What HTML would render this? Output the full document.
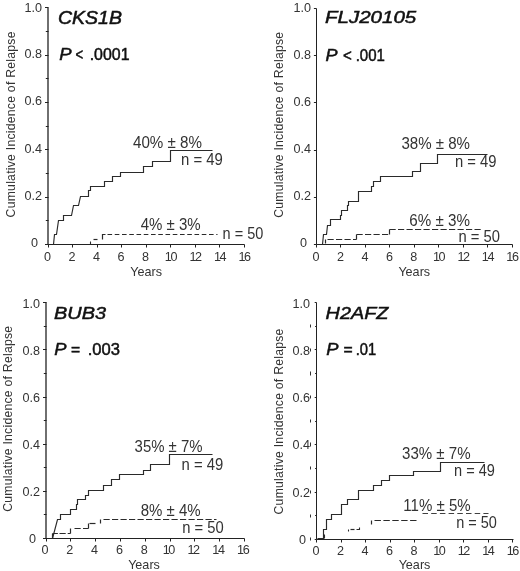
<!DOCTYPE html>
<html lang="en">
<head>
<meta charset="utf-8">
<title>Cumulative Incidence of Relapse</title>
<style>
html,body{margin:0;padding:0;background:#fff;}
body{width:520px;height:571px;overflow:hidden;}
svg{display:block;font-family:"Liberation Sans", Arial, Helvetica, sans-serif;filter:grayscale(1);}
</style>
</head>
<body>
<svg width="520" height="571" viewBox="0 0 520 571" font-family='"Liberation Sans", Arial, Helvetica, sans-serif'>
<rect x="0" y="0" width="520" height="571" fill="#ffffff"/>
<path d="M48,7.4 V245" fill="none" stroke="#2a2a2a" stroke-width="1.35"/>
<path d="M47.5,244.5 H244.5" fill="none" stroke="#222" stroke-width="1"/>
<path d="M45,244.5 H48.5" fill="none" stroke="#222" stroke-width="1"/>
<text transform="translate(38,246.7) scale(1,1)" font-size="12.6" text-anchor="end" fill="#333">0</text>
<path d="M45.8,220.5 H48.5" fill="none" stroke="#222" stroke-width="1"/>
<path d="M45,197.5 H48.5" fill="none" stroke="#222" stroke-width="1"/>
<text transform="translate(42,199.98) scale(1,1)" font-size="12.6" text-anchor="end" fill="#333">0.2</text>
<path d="M45.8,173.5 H48.5" fill="none" stroke="#222" stroke-width="1"/>
<path d="M45,149.5 H48.5" fill="none" stroke="#222" stroke-width="1"/>
<text transform="translate(42,152.66) scale(1,1)" font-size="12.6" text-anchor="end" fill="#333">0.4</text>
<path d="M45.8,126.5 H48.5" fill="none" stroke="#222" stroke-width="1"/>
<path d="M45,102.5 H48.5" fill="none" stroke="#222" stroke-width="1"/>
<text transform="translate(42,105.34) scale(1,1)" font-size="12.6" text-anchor="end" fill="#333">0.6</text>
<path d="M45.8,78.5 H48.5" fill="none" stroke="#222" stroke-width="1"/>
<path d="M45,55.5 H48.5" fill="none" stroke="#222" stroke-width="1"/>
<text transform="translate(42,58.02) scale(1,1)" font-size="12.6" text-anchor="end" fill="#333">0.8</text>
<path d="M45.8,31.5 H48.5" fill="none" stroke="#222" stroke-width="1"/>
<path d="M45,7.5 H48.5" fill="none" stroke="#222" stroke-width="1"/>
<text transform="translate(42,11.8) scale(1,1)" font-size="12.6" text-anchor="end" fill="#333">1.0</text>
<path d="M48.5,244.5 V247.5" fill="none" stroke="#222" stroke-width="1"/>
<text transform="translate(47.4,260.9) scale(1,1)" font-size="12.6" text-anchor="middle" fill="#333">0</text>
<path d="M72.5,244.5 V247.5" fill="none" stroke="#222" stroke-width="1"/>
<text transform="translate(71.95,260.9) scale(1,1)" font-size="12.6" text-anchor="middle" fill="#333">2</text>
<path d="M97.5,244.5 V247.5" fill="none" stroke="#222" stroke-width="1"/>
<text transform="translate(96.5,260.9) scale(1,1)" font-size="12.6" text-anchor="middle" fill="#333">4</text>
<path d="M121.5,244.5 V247.5" fill="none" stroke="#222" stroke-width="1"/>
<text transform="translate(121.05,260.9) scale(1,1)" font-size="12.6" text-anchor="middle" fill="#333">6</text>
<path d="M146.5,244.5 V247.5" fill="none" stroke="#222" stroke-width="1"/>
<text transform="translate(145.6,260.9) scale(1,1)" font-size="12.6" text-anchor="middle" fill="#333">8</text>
<path d="M170.5,244.5 V247.5" fill="none" stroke="#222" stroke-width="1"/>
<text transform="translate(170.45,260.9) scale(1,1)" font-size="12.6" text-anchor="middle" letter-spacing="-1.4" fill="#333">10</text>
<path d="M195.5,244.5 V247.5" fill="none" stroke="#222" stroke-width="1"/>
<text transform="translate(195,260.9) scale(1,1)" font-size="12.6" text-anchor="middle" letter-spacing="-1.4" fill="#333">12</text>
<path d="M219.5,244.5 V247.5" fill="none" stroke="#222" stroke-width="1"/>
<text transform="translate(219.55,260.9) scale(1,1)" font-size="12.6" text-anchor="middle" letter-spacing="-1.4" fill="#333">14</text>
<path d="M244.5,244.5 V247.5" fill="none" stroke="#222" stroke-width="1"/>
<text transform="translate(244.1,260.9) scale(1,1)" font-size="12.6" text-anchor="middle" letter-spacing="-1.4" fill="#333">16</text>
<text transform="translate(146.2,275.5) scale(1,1)" font-size="12.6" text-anchor="middle" fill="#333">Years</text>
<text transform="translate(14.8,217.4) rotate(-90)" font-size="12.2" letter-spacing="0.255" fill="#333">Cumulative Incidence of Relapse</text>
<text transform="translate(58.00,23.5) scale(1.109,1)" font-size="17.6" font-style="italic" fill="#111" stroke="#111" stroke-width="0.5">CKS1B</text>
<text transform="translate(59.20,60.4) scale(1.088,1)" font-size="17" font-style="italic" fill="#111" stroke="#111" stroke-width="0.5">P</text>
<text transform="translate(75.40,60.4) scale(0.774,1)" font-size="17" fill="#111" stroke="#111" stroke-width="0.5">&lt;</text>
<text transform="translate(89.70,60.4) scale(0.937,1)" font-size="17" fill="#111" stroke="#111" stroke-width="0.5">.0001</text>
<path d="M53.5,244.5 L54.5,234.5 L56.5,234.5 L58.5,220.5 L63.5,220.5 L63.5,215.5 L71.5,215.5 L73.5,205.5 L78.5,205.5 L80.5,196.5 L88.5,196.5 L88.5,190.5 L90.5,190.5 L90.5,186.5 L104.5,186.5 L104.5,181.5 L112.5,181.5 L112.5,176.5 L120.5,176.5 L120.5,172.5 L143.5,172.5 L143.5,166.5 L152.5,166.5 L152.5,161.5 L170.5,161.5 L170.5,150.5 L212.5,150.5" fill="none" stroke="#2a2a2a" stroke-width="1.15"/>
<path d="M90.5,244.5 V241.5" fill="none" stroke="#2a2a2a" stroke-width="1.1"/>
<path d="M93.5,239.5 H97.5" fill="none" stroke="#2a2a2a" stroke-width="1.2"/>
<path d="M102.5,239.5 V234.5 H105.5" fill="none" stroke="#2a2a2a" stroke-width="1.2"/>
<path d="M107.5,234.5 H217.5" fill="none" stroke="#2a2a2a" stroke-width="1.2" stroke-dasharray="4.6,2.65"/>
<text transform="translate(133.00,148.2) scale(0.960,1)" font-size="15.8" fill="#333">40% ± 8%</text>
<text transform="translate(181.00,165) scale(0.946,1)" font-size="15.8" fill="#333">n = 49</text>
<text transform="translate(140.70,230) scale(0.951,1)" font-size="15.8" fill="#333">4% ± 3%</text>
<text transform="translate(222.60,238.5) scale(0.919,1)" font-size="15.8" fill="#333">n = 50</text>
<path d="M316.5,8.5 V244.5 H512.5" fill="none" stroke="#222" stroke-width="1"/>
<path d="M313.9,244.5 H316.5" fill="none" stroke="#222" stroke-width="1"/>
<text transform="translate(306.9,246.7) scale(1,1)" font-size="12.6" text-anchor="end" fill="#333">0</text>
<path d="M313.9,197.5 H316.5" fill="none" stroke="#222" stroke-width="1"/>
<text transform="translate(310.9,200.12) scale(1,1)" font-size="12.6" text-anchor="end" fill="#333">0.2</text>
<path d="M313.9,150.5 H316.5" fill="none" stroke="#222" stroke-width="1"/>
<text transform="translate(310.9,152.94) scale(1,1)" font-size="12.6" text-anchor="end" fill="#333">0.4</text>
<path d="M313.9,102.5 H316.5" fill="none" stroke="#222" stroke-width="1"/>
<text transform="translate(310.9,105.76) scale(1,1)" font-size="12.6" text-anchor="end" fill="#333">0.6</text>
<path d="M313.9,55.5 H316.5" fill="none" stroke="#222" stroke-width="1"/>
<text transform="translate(310.9,58.58) scale(1,1)" font-size="12.6" text-anchor="end" fill="#333">0.8</text>
<path d="M313.9,8.5 H316.5" fill="none" stroke="#222" stroke-width="1"/>
<text transform="translate(310.9,11.8) scale(1,1)" font-size="12.6" text-anchor="end" fill="#333">1.0</text>
<path d="M316.5,244.5 V247.5" fill="none" stroke="#222" stroke-width="1"/>
<text transform="translate(316.1,260.9) scale(1,1)" font-size="12.6" text-anchor="middle" fill="#333">0</text>
<path d="M340.5,244.5 V247.5" fill="none" stroke="#222" stroke-width="1"/>
<text transform="translate(340.538,260.9) scale(1,1)" font-size="12.6" text-anchor="middle" fill="#333">2</text>
<path d="M365.5,244.5 V247.5" fill="none" stroke="#222" stroke-width="1"/>
<text transform="translate(364.975,260.9) scale(1,1)" font-size="12.6" text-anchor="middle" fill="#333">4</text>
<path d="M389.5,244.5 V247.5" fill="none" stroke="#222" stroke-width="1"/>
<text transform="translate(389.413,260.9) scale(1,1)" font-size="12.6" text-anchor="middle" fill="#333">6</text>
<path d="M414.5,244.5 V247.5" fill="none" stroke="#222" stroke-width="1"/>
<text transform="translate(413.85,260.9) scale(1,1)" font-size="12.6" text-anchor="middle" fill="#333">8</text>
<path d="M438.5,244.5 V247.5" fill="none" stroke="#222" stroke-width="1"/>
<text transform="translate(438.588,260.9) scale(1,1)" font-size="12.6" text-anchor="middle" letter-spacing="-1.4" fill="#333">10</text>
<path d="M463.5,244.5 V247.5" fill="none" stroke="#222" stroke-width="1"/>
<text transform="translate(463.025,260.9) scale(1,1)" font-size="12.6" text-anchor="middle" letter-spacing="-1.4" fill="#333">12</text>
<path d="M487.5,244.5 V247.5" fill="none" stroke="#222" stroke-width="1"/>
<text transform="translate(487.463,260.9) scale(1,1)" font-size="12.6" text-anchor="middle" letter-spacing="-1.4" fill="#333">14</text>
<path d="M512.5,244.5 V247.5" fill="none" stroke="#222" stroke-width="1"/>
<text transform="translate(511.9,260.9) scale(1,1)" font-size="12.6" text-anchor="middle" letter-spacing="-1.4" fill="#333">16</text>
<text transform="translate(414.25,275.5) scale(1,1)" font-size="12.6" text-anchor="middle" fill="#333">Years</text>
<text transform="translate(283.2,217.75) rotate(-90)" font-size="12.2" letter-spacing="0.255" fill="#333">Cumulative Incidence of Relapse</text>
<text transform="translate(325.00,22.9) scale(1.180,1)" font-size="17.4" font-style="italic" fill="#111" stroke="#111" stroke-width="0.5">FLJ20105</text>
<text transform="translate(325.40,60.7) scale(1.061,1)" font-size="17" font-style="italic" fill="#111" stroke="#111" stroke-width="0.5">P</text>
<text transform="translate(343.00,60.7) scale(0.885,1)" font-size="17" fill="#111" stroke="#111" stroke-width="0.5">&lt;</text>
<text transform="translate(355.70,60.7) scale(0.883,1)" font-size="17" fill="#111" stroke="#111" stroke-width="0.5">.001</text>
<path d="M322.5,244.5 L323.5,234.5 L326.5,234.5 L327.5,225.5 L330.5,225.5 L330.5,219.5 L340.5,219.5 L340.5,215.5 L341.5,215.5 L341.5,210.5 L347.5,210.5 L347.5,205.5 L348.5,205.5 L348.5,201.5 L358.5,201.5 L358.5,191.5 L371.5,191.5 L371.5,186.5 L373.5,186.5 L373.5,181.5 L380.5,181.5 L380.5,176.5 L412.5,176.5 L412.5,171.5 L420.5,171.5 L420.5,163.5 L437.5,163.5 L437.5,154.5 L487.5,154.5" fill="none" stroke="#2a2a2a" stroke-width="1.15"/>
<path d="M325.5,243.5 V239.5" fill="none" stroke="#2a2a2a" stroke-width="1.2"/>
<path d="M327.5,239.5 H356.5" fill="none" stroke="#2a2a2a" stroke-width="1.2" stroke-dasharray="6.2,2.3"/>
<path d="M356.5,239.5 V234.5" fill="none" stroke="#2a2a2a" stroke-width="1.2"/>
<path d="M356.5,234.5 H389.5" fill="none" stroke="#2a2a2a" stroke-width="1.2" stroke-dasharray="6.2,2.3"/>
<path d="M389.5,234.5 V229.5" fill="none" stroke="#2a2a2a" stroke-width="1.2"/>
<path d="M389.5,229.5 H482.5" fill="none" stroke="#2a2a2a" stroke-width="1.2" stroke-dasharray="6.2,2.3"/>
<text transform="translate(401.40,148.6) scale(0.954,1)" font-size="15.8" fill="#333">38% ± 8%</text>
<text transform="translate(455.00,167.2) scale(0.937,1)" font-size="15.8" fill="#333">n = 49</text>
<text transform="translate(409.30,226.2) scale(0.962,1)" font-size="15.8" fill="#333">6% ± 3%</text>
<text transform="translate(458.50,242) scale(0.935,1)" font-size="15.8" fill="#333">n = 50</text>
<path d="M46,302.3 V539" fill="none" stroke="#2a2a2a" stroke-width="1.35"/>
<path d="M45.5,538.5 H244.5" fill="none" stroke="#222" stroke-width="1"/>
<path d="M43,538.5 H46.5" fill="none" stroke="#222" stroke-width="1"/>
<text transform="translate(36,542.5) scale(1,1)" font-size="12.6" text-anchor="end" fill="#333">0</text>
<path d="M43.8,514.5 H46.5" fill="none" stroke="#222" stroke-width="1"/>
<path d="M43,491.5 H46.5" fill="none" stroke="#222" stroke-width="1"/>
<text transform="translate(40,495.96) scale(1,1)" font-size="12.6" text-anchor="end" fill="#333">0.2</text>
<path d="M43.8,467.5 H46.5" fill="none" stroke="#222" stroke-width="1"/>
<path d="M43,444.5 H46.5" fill="none" stroke="#222" stroke-width="1"/>
<text transform="translate(40,448.82) scale(1,1)" font-size="12.6" text-anchor="end" fill="#333">0.4</text>
<path d="M43.8,420.5 H46.5" fill="none" stroke="#222" stroke-width="1"/>
<path d="M43,397.5 H46.5" fill="none" stroke="#222" stroke-width="1"/>
<text transform="translate(40,401.68) scale(1,1)" font-size="12.6" text-anchor="end" fill="#333">0.6</text>
<path d="M43.8,373.5 H46.5" fill="none" stroke="#222" stroke-width="1"/>
<path d="M43,349.5 H46.5" fill="none" stroke="#222" stroke-width="1"/>
<text transform="translate(40,354.54) scale(1,1)" font-size="12.6" text-anchor="end" fill="#333">0.8</text>
<path d="M43.8,326.5 H46.5" fill="none" stroke="#222" stroke-width="1"/>
<path d="M43,302.5 H46.5" fill="none" stroke="#222" stroke-width="1"/>
<text transform="translate(40,307.9) scale(1,1)" font-size="12.6" text-anchor="end" fill="#333">1.0</text>
<path d="M46.5,538.5 V541.5" fill="none" stroke="#222" stroke-width="1"/>
<text transform="translate(45,554.1) scale(1,1)" font-size="12.6" text-anchor="middle" fill="#333">0</text>
<path d="M70.5,538.5 V541.5" fill="none" stroke="#222" stroke-width="1"/>
<text transform="translate(69.8,554.1) scale(1,1)" font-size="12.6" text-anchor="middle" fill="#333">2</text>
<path d="M95.5,538.5 V541.5" fill="none" stroke="#222" stroke-width="1"/>
<text transform="translate(94.6,554.1) scale(1,1)" font-size="12.6" text-anchor="middle" fill="#333">4</text>
<path d="M120.5,538.5 V541.5" fill="none" stroke="#222" stroke-width="1"/>
<text transform="translate(119.4,554.1) scale(1,1)" font-size="12.6" text-anchor="middle" fill="#333">6</text>
<path d="M145.5,538.5 V541.5" fill="none" stroke="#222" stroke-width="1"/>
<text transform="translate(144.2,554.1) scale(1,1)" font-size="12.6" text-anchor="middle" fill="#333">8</text>
<path d="M170.5,538.5 V541.5" fill="none" stroke="#222" stroke-width="1"/>
<text transform="translate(168.3,554.1) scale(1,1)" font-size="12.6" text-anchor="middle" letter-spacing="-1.4" fill="#333">10</text>
<path d="M194.5,538.5 V541.5" fill="none" stroke="#222" stroke-width="1"/>
<text transform="translate(193.1,554.1) scale(1,1)" font-size="12.6" text-anchor="middle" letter-spacing="-1.4" fill="#333">12</text>
<path d="M219.5,538.5 V541.5" fill="none" stroke="#222" stroke-width="1"/>
<text transform="translate(217.9,554.1) scale(1,1)" font-size="12.6" text-anchor="middle" letter-spacing="-1.4" fill="#333">14</text>
<path d="M244.5,538.5 V541.5" fill="none" stroke="#222" stroke-width="1"/>
<text transform="translate(242.7,554.1) scale(1,1)" font-size="12.6" text-anchor="middle" letter-spacing="-1.4" fill="#333">16</text>
<text transform="translate(144,568.7) scale(1,1)" font-size="12.6" text-anchor="middle" fill="#333">Years</text>
<text transform="translate(12.3,511.75) rotate(-90)" font-size="12.2" letter-spacing="0.255" fill="#333">Cumulative Incidence of Relapse</text>
<text transform="translate(54.00,318.9) scale(1.145,1)" font-size="17.4" font-style="italic" fill="#111" stroke="#111" stroke-width="0.5">BUB3</text>
<text transform="translate(54.20,354.6) scale(1.079,1)" font-size="17" font-style="italic" fill="#111" stroke="#111" stroke-width="0.5">P</text>
<text transform="translate(71.10,354.6) scale(0.925,1)" font-size="17" fill="#111" stroke="#111" stroke-width="0.5">=</text>
<text transform="translate(87.70,354.6) scale(0.977,1)" font-size="17" fill="#111" stroke="#111" stroke-width="0.5">.003</text>
<path d="M52.5,538.5 L57.5,519.5 L60.5,519.5 L60.5,514.5 L70.5,514.5 L70.5,509.5 L76.5,509.5 L76.5,504.5 L77.5,504.5 L77.5,499.5 L85.5,499.5 L85.5,495.5 L88.5,495.5 L88.5,490.5 L103.5,490.5 L103.5,485.5 L111.5,485.5 L111.5,479.5 L119.5,479.5 L119.5,474.5 L143.5,474.5 L143.5,470.5 L150.5,470.5 L150.5,464.5 L169.5,464.5 L169.5,454.5 L212.5,454.5" fill="none" stroke="#2a2a2a" stroke-width="1.15"/>
<path d="M52.5,538.5 V533.5" fill="none" stroke="#2a2a2a" stroke-width="1.2"/>
<path d="M52.5,533.5 H70.5" fill="none" stroke="#2a2a2a" stroke-width="1.2" stroke-dasharray="5.4,1.6,6.2,2,3.4,9"/>
<path d="M70.5,533.5 V528.5" fill="none" stroke="#2a2a2a" stroke-width="1.2"/>
<path d="M74.5,528.5 H88.5" fill="none" stroke="#2a2a2a" stroke-width="1.2" stroke-dasharray="6.2,2.3"/>
<path d="M88.5,528.5 V523.5" fill="none" stroke="#2a2a2a" stroke-width="1.2"/>
<path d="M89.5,523.5 H95.5" fill="none" stroke="#2a2a2a" stroke-width="1.2"/>
<path d="M100.5,523.5 V519.5" fill="none" stroke="#2a2a2a" stroke-width="1.2"/>
<path d="M103.5,519.5 H216.5" fill="none" stroke="#2a2a2a" stroke-width="1.2" stroke-dasharray="6.2,2.3"/>
<text transform="translate(134.60,452.2) scale(0.946,1)" font-size="15.8" fill="#333">35% ± 7%</text>
<text transform="translate(181.60,469.6) scale(0.941,1)" font-size="15.8" fill="#333">n = 49</text>
<text transform="translate(140.70,516) scale(0.951,1)" font-size="15.8" fill="#333">8% ± 4%</text>
<text transform="translate(182.30,533.1) scale(0.935,1)" font-size="15.8" fill="#333">n = 50</text>
<path d="M316.5,302.5 V539.5 H513.5" fill="none" stroke="#222" stroke-width="1"/>
<path d="M314.7,539.5 H316.5" fill="none" stroke="#222" stroke-width="1"/>
<text transform="translate(306.1,543.6) scale(1,1)" font-size="12.6" text-anchor="end" fill="#333">0</text>
<path d="M310.5,537.5 V540.5" fill="none" stroke="#333" stroke-width="1"/>
<path d="M315.1,515.5 H316.5" fill="none" stroke="#222" stroke-width="1"/>
<path d="M310.5,514.5 V517.5" fill="none" stroke="#333" stroke-width="1"/>
<path d="M314.7,492.5 H316.5" fill="none" stroke="#222" stroke-width="1"/>
<text transform="translate(310.1,496.82) scale(1,1)" font-size="12.6" text-anchor="end" fill="#333">0.2</text>
<path d="M310.5,490.5 V493.5" fill="none" stroke="#333" stroke-width="1"/>
<path d="M315.1,468.5 H316.5" fill="none" stroke="#222" stroke-width="1"/>
<path d="M310.5,466.5 V469.5" fill="none" stroke="#333" stroke-width="1"/>
<path d="M314.7,444.5 H316.5" fill="none" stroke="#222" stroke-width="1"/>
<text transform="translate(310.1,449.44) scale(1,1)" font-size="12.6" text-anchor="end" fill="#333">0.4</text>
<path d="M310.5,442.5 V446.5" fill="none" stroke="#333" stroke-width="1"/>
<path d="M315.1,421.5 H316.5" fill="none" stroke="#222" stroke-width="1"/>
<path d="M310.5,419.5 V422.5" fill="none" stroke="#333" stroke-width="1"/>
<path d="M314.7,397.5 H316.5" fill="none" stroke="#222" stroke-width="1"/>
<text transform="translate(310.1,402.06) scale(1,1)" font-size="12.6" text-anchor="end" fill="#333">0.6</text>
<path d="M310.5,395.5 V398.5" fill="none" stroke="#333" stroke-width="1"/>
<path d="M315.1,373.5 H316.5" fill="none" stroke="#222" stroke-width="1"/>
<path d="M310.5,371.5 V375.5" fill="none" stroke="#333" stroke-width="1"/>
<path d="M314.7,349.5 H316.5" fill="none" stroke="#222" stroke-width="1"/>
<text transform="translate(310.1,354.68) scale(1,1)" font-size="12.6" text-anchor="end" fill="#333">0.8</text>
<path d="M310.5,348.5 V351.5" fill="none" stroke="#333" stroke-width="1"/>
<path d="M315.1,326.5 H316.5" fill="none" stroke="#222" stroke-width="1"/>
<path d="M310.5,324.5 V327.5" fill="none" stroke="#333" stroke-width="1"/>
<path d="M314.7,302.5 H316.5" fill="none" stroke="#222" stroke-width="1"/>
<text transform="translate(310.1,307.65) scale(1,1)" font-size="12.6" text-anchor="end" fill="#333">1.0</text>
<path d="M316.5,539.5 V542.5" fill="none" stroke="#222" stroke-width="1"/>
<text transform="translate(316,554.9) scale(1,1)" font-size="12.6" text-anchor="middle" fill="#333">0</text>
<path d="M341.5,539.5 V542.5" fill="none" stroke="#222" stroke-width="1"/>
<text transform="translate(340.5,554.9) scale(1,1)" font-size="12.6" text-anchor="middle" fill="#333">2</text>
<path d="M365.5,539.5 V542.5" fill="none" stroke="#222" stroke-width="1"/>
<text transform="translate(365,554.9) scale(1,1)" font-size="12.6" text-anchor="middle" fill="#333">4</text>
<path d="M390.5,539.5 V542.5" fill="none" stroke="#222" stroke-width="1"/>
<text transform="translate(389.5,554.9) scale(1,1)" font-size="12.6" text-anchor="middle" fill="#333">6</text>
<path d="M414.5,539.5 V542.5" fill="none" stroke="#222" stroke-width="1"/>
<text transform="translate(414,554.9) scale(1,1)" font-size="12.6" text-anchor="middle" fill="#333">8</text>
<path d="M439.5,539.5 V542.5" fill="none" stroke="#222" stroke-width="1"/>
<text transform="translate(438.8,554.9) scale(1,1)" font-size="12.6" text-anchor="middle" letter-spacing="-1.4" fill="#333">10</text>
<path d="M463.5,539.5 V542.5" fill="none" stroke="#222" stroke-width="1"/>
<text transform="translate(463.3,554.9) scale(1,1)" font-size="12.6" text-anchor="middle" letter-spacing="-1.4" fill="#333">12</text>
<path d="M488.5,539.5 V542.5" fill="none" stroke="#222" stroke-width="1"/>
<text transform="translate(487.8,554.9) scale(1,1)" font-size="12.6" text-anchor="middle" letter-spacing="-1.4" fill="#333">14</text>
<path d="M512.5,539.5 V542.5" fill="none" stroke="#222" stroke-width="1"/>
<text transform="translate(512.3,554.9) scale(1,1)" font-size="12.6" text-anchor="middle" letter-spacing="-1.4" fill="#333">16</text>
<text transform="translate(414.5,568.7) scale(1,1)" font-size="12.6" text-anchor="middle" fill="#333">Years</text>
<text transform="translate(283.2,514.45) rotate(-90)" font-size="12.2" letter-spacing="0.255" fill="#333">Cumulative Incidence of Relapse</text>
<text transform="translate(325.60,318.9) scale(1.140,1)" font-size="17.4" font-style="italic" fill="#111" stroke="#111" stroke-width="0.5">H2AFZ</text>
<text transform="translate(326.20,354.6) scale(1.079,1)" font-size="17" font-style="italic" fill="#111" stroke="#111" stroke-width="0.5">P</text>
<text transform="translate(343.40,354.6) scale(0.925,1)" font-size="17" fill="#111" stroke="#111" stroke-width="0.5">=</text>
<text transform="translate(355.70,354.6) scale(0.868,1)" font-size="17" fill="#111" stroke="#111" stroke-width="0.5">.01</text>
<path d="M317.5,538.5 L323.5,538.5 L323.5,529.5 L326.5,529.5 L326.5,519.5 L331.5,519.5 L331.5,514.5 L341.5,514.5 L341.5,504.5 L347.5,504.5 L347.5,499.5 L358.5,499.5 L358.5,490.5 L373.5,490.5 L373.5,485.5 L381.5,485.5 L381.5,480.5 L389.5,480.5 L389.5,475.5 L413.5,475.5 L413.5,471.5 L440.5,471.5 L440.5,462.5 L484.5,462.5" fill="none" stroke="#2a2a2a" stroke-width="1.15"/>
<path d="M324.5,534.5 V538.5" fill="none" stroke="#2a2a2a" stroke-width="1.1"/>
<path d="M348.5,531.5 V529.5" fill="none" stroke="#2a2a2a" stroke-width="1.1"/>
<path d="M350.5,529.5 H354.5" fill="none" stroke="#2a2a2a" stroke-width="1.2"/>
<path d="M356.5,529.5 H359.5 V527.5" fill="none" stroke="#2a2a2a" stroke-width="1.1"/>
<path d="M371.5,524.5 V520.5" fill="none" stroke="#2a2a2a" stroke-width="1.2"/>
<path d="M374.5,520.5 H418.5" fill="none" stroke="#2a2a2a" stroke-width="1.2" stroke-dasharray="6.4,2.5"/>
<path d="M422.5,513.5 H488.5" fill="none" stroke="#2a2a2a" stroke-width="0.9" stroke-dasharray="5.5,3.2"/>
<text transform="translate(402.00,459) scale(0.954,1)" font-size="15.8" fill="#333">33% ± 7%</text>
<text transform="translate(454.00,476) scale(0.923,1)" font-size="15.8" fill="#333">n = 49</text>
<text transform="translate(403.30,511.3) scale(0.953,1)" font-size="15.8" fill="#333">11% ± 5%</text>
<text transform="translate(456.20,527.5) scale(0.919,1)" font-size="15.8" fill="#333">n = 50</text>
</svg>
</body>
</html>
